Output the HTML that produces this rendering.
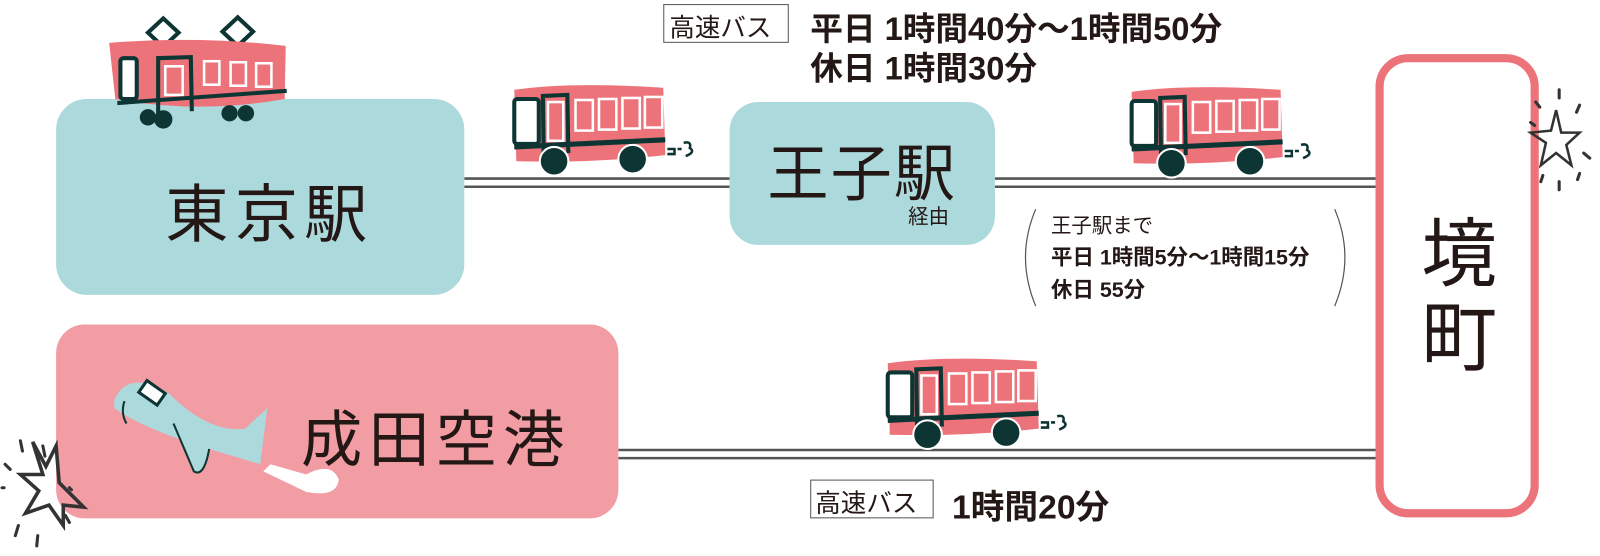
<!DOCTYPE html>
<html><head><meta charset="utf-8"><style>
body{margin:0;width:1600px;height:556px;background:#fff;overflow:hidden;position:relative;font-family:"Liberation Sans","Noto Sans CJK JP",sans-serif;color:#231815}
#w{position:absolute;left:0;top:0;width:1568px;height:545px;transform:scale(1.0204);transform-origin:0 0}
.a{position:absolute;white-space:nowrap}
</style></head><body><div id="w">
<svg width="1568" height="545" style="position:absolute;left:0;top:0">
<defs>
<g id="bus">
<path d="M4,8 Q60,0 150,6 L152,72 Q80,80 6,78 Z" fill="#ec737a"/>
<rect x="4" y="17" width="24" height="44" rx="3" fill="#fff" stroke="#0d3533" stroke-width="4"/>
<path d="M33,85 L32,14 L56,13 L57,70" fill="none" stroke="#0d3533" stroke-width="4"/>
<rect x="37" y="20" width="15" height="38" fill="none" stroke="#fff" stroke-width="2.5"/>
<rect x="64" y="18" width="17" height="30" fill="none" stroke="#fff" stroke-width="2.5"/>
<rect x="87" y="17" width="17" height="30" fill="none" stroke="#fff" stroke-width="2.5"/>
<rect x="110" y="16" width="17" height="30" fill="none" stroke="#fff" stroke-width="2.5"/>
<rect x="132" y="15" width="17" height="30" fill="none" stroke="#fff" stroke-width="2.5"/>
<path d="M4,64 L152,57" stroke="#0d3533" stroke-width="5"/>
<circle cx="43" cy="78" r="14" fill="#0d3533" stroke="#fff" stroke-width="2"/>
<circle cx="120" cy="76" r="14" fill="#0d3533" stroke="#fff" stroke-width="2"/>
<path d="M154,66 h7 v5 h-7 M164,66 h4 M170,60 q8,-2 6,5 q6,4 -4,8" fill="none" stroke="#0d3533" stroke-width="2.5"/>
</g>
</defs>
<g stroke="#555" stroke-width="2.5">
<line x1="455" y1="175" x2="715" y2="175"/><line x1="455" y1="183" x2="715" y2="183"/>
<line x1="975" y1="175" x2="1350" y2="175"/><line x1="975" y1="183" x2="1350" y2="183"/>
<line x1="606" y1="441" x2="1350" y2="441"/><line x1="606" y1="449" x2="1350" y2="449"/>
</g>
<rect x="55" y="97" width="400" height="192" rx="30" fill="#acd9dc"/>
<rect x="715" y="100" width="260" height="140" rx="28" fill="#acd9dc"/>
<rect x="55" y="318" width="551" height="190" rx="28" fill="#f29ca3"/>
<rect x="1352" y="57" width="152" height="446" rx="28" fill="#fff" stroke="#ec737a" stroke-width="8"/>
<!-- train -->
<g transform="translate(105,-3)">
<path d="M40,35 L55,21 L70,35 L55,49Z M113,34 L128,20 L143,34 L128,48Z" fill="#fff" stroke="#0d3533" stroke-width="4"/>
<path d="M2,45 Q90,38 175,48 L174,100 Q90,115 8,100 Z" fill="#ec737a"/>
<rect x="13" y="60" width="16" height="40" rx="3" fill="#fff" stroke="#0d3533" stroke-width="4"/>
<path d="M50,120 L50,60 L82,59 L83,112" fill="none" stroke="#0d3533" stroke-width="4"/>
<rect x="57" y="68" width="17" height="28" fill="none" stroke="#fff" stroke-width="2.5"/>
<rect x="95" y="63" width="15" height="23" fill="none" stroke="#fff" stroke-width="2.5"/>
<rect x="121" y="64" width="15" height="23" fill="none" stroke="#fff" stroke-width="2.5"/>
<rect x="146" y="65" width="15" height="23" fill="none" stroke="#fff" stroke-width="2.5"/>
<path d="M10,104 L176,92" stroke="#0d3533" stroke-width="4"/>
<circle cx="40" cy="118" r="8" fill="#0d3533"/><circle cx="55" cy="120" r="9" fill="#0d3533"/>
<circle cx="120" cy="114" r="8" fill="#0d3533"/><circle cx="136" cy="114" r="8" fill="#0d3533"/>
</g>
<use href="#bus" transform="translate(500,80)"/>
<use href="#bus" transform="translate(1105,82)"/>
<use href="#bus" transform="translate(866,348)"/>
<!-- plane -->
<g>
<path d="M112,392 Q125,362 165,385 Q205,425 240,420 L262,400 L255,455 L205,440 Q140,420 112,400Z" fill="#acd9dc"/>
<path d="M170,415 L190,462 Q200,468 205,440" fill="#acd9dc" stroke="#0d3533" stroke-width="2"/>
<rect x="138" y="378" width="22" height="14" transform="rotate(35 149 385)" fill="#fff" stroke="#0d3533" stroke-width="3"/>
<path d="M122,393 Q118,405 124,415" fill="none" stroke="#0d3533" stroke-width="2"/>
<path d="M258,462 L300,482 Q330,488 332,470 Q325,452 300,465 L265,455Z" fill="#fff"/>
</g>
<!-- stars -->
<path d="M32,438 L45,462 L55,442 L58,478 L82,502 L62,500 L62,520 L48,500 L25,508 L38,486 L20,470 L42,470 Z" fill="none" stroke="#333" stroke-width="3.5" transform="translate(0,-5)"/>
<path d="M1525,108 L1530,130 L1548,130 L1535,142 L1540,162 L1525,150 L1510,162 L1515,140 L1500,130 L1520,128 Z" fill="none" stroke="#333" stroke-width="2.5"/>
<g stroke="#333" stroke-width="3" stroke-linecap="round">
<line x1="20" y1="432" x2="22" y2="442"/><line x1="42" y1="437" x2="44" y2="447"/><line x1="5" y1="455" x2="10" y2="460"/><line x1="2" y1="478" x2="4" y2="478"/><line x1="68" y1="478" x2="70" y2="480"/><line x1="64" y1="505" x2="68" y2="512"/><line x1="18" y1="515" x2="15" y2="525"/><line x1="37" y1="525" x2="36" y2="535"/>
<line x1="1528" y1="88" x2="1528" y2="96"/><line x1="1505" y1="100" x2="1509" y2="105"/><line x1="1548" y1="103" x2="1545" y2="110"/><line x1="1500" y1="120" x2="1504" y2="123"/><line x1="1552" y1="150" x2="1558" y2="155"/><line x1="1510" y1="178" x2="1512" y2="172"/><line x1="1528" y1="178" x2="1528" y2="186"/><line x1="1548" y1="170" x2="1546" y2="176"/>
</g>
<path d="M1015,205 Q995,252 1015,300" fill="none" stroke="#555" stroke-width="1.2"/>
<path d="M1308,205 Q1328,252 1308,300" fill="none" stroke="#555" stroke-width="1.2"/>
<rect x="650.5" y="4.5" width="122" height="37" fill="#fff" stroke="#555" stroke-width="1"/>
<rect x="794.5" y="470.5" width="120" height="37" fill="#fff" stroke="#555" stroke-width="1"/>
</svg>
<div class="a" style="left:162px;top:160px;font-size:62px;letter-spacing:6px">東京駅</div>
<div class="a" style="left:752px;top:122px;font-size:60px;letter-spacing:2px">王子駅</div>
<div class="a" style="left:890px;top:196px;font-size:20px">経由</div>
<div class="a" style="left:295px;top:383px;font-size:60px;letter-spacing:6px">成田空港</div>
<div class="a" style="left:1393px;top:190px;font-size:74px">境</div>
<div class="a" style="left:1393px;top:272px;font-size:74px">町</div>
<div class="a" style="left:656px;top:8px;font-size:25px">高速バス</div>
<div class="a" style="left:794px;top:3px;font-size:32px;font-weight:bold">平日 1時間40分～1時間50分</div>
<div class="a" style="left:794px;top:42px;font-size:32px;font-weight:bold">休日 1時間30分</div>
<div class="a" style="left:799px;top:474px;font-size:25px">高速バス</div>
<div class="a" style="left:933px;top:470px;font-size:33px;font-weight:bold">1時間20分</div>
<div class="a" style="left:1030px;top:205px;font-size:20px">王子駅まで</div>
<div class="a" style="left:1030px;top:236px;font-size:21px;font-weight:bold">平日 1時間5分～1時間15分</div>
<div class="a" style="left:1030px;top:268px;font-size:21px;font-weight:bold">休日 55分</div>
</div></body></html>
